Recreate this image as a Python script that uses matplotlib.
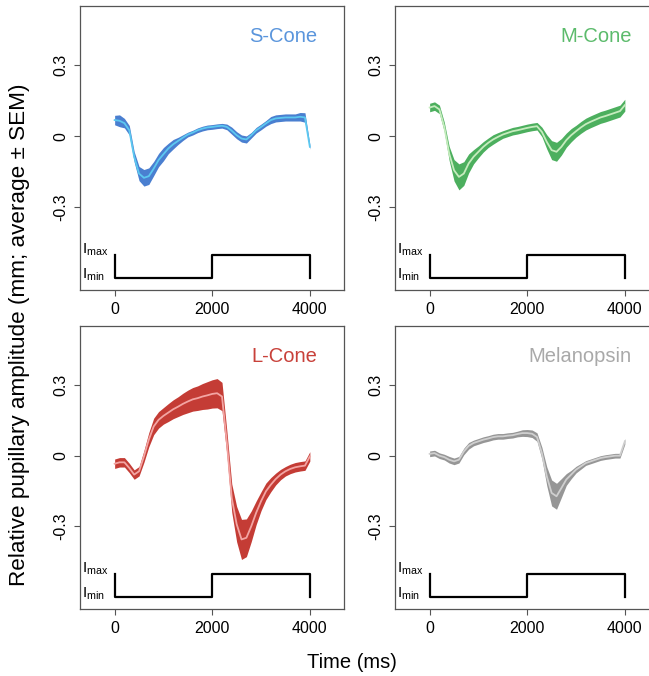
import numpy as np
import matplotlib
matplotlib.use("Agg")
import matplotlib.pyplot as plt

plt.rcParams['font.family'] = ['Liberation Sans', 'DejaVu Sans']
plt.rcParams['mathtext.fontset'] = 'custom'
plt.rcParams['mathtext.rm'] = 'Liberation Sans'

# time grid (ms)
time_ms = np.arange(0, 4001, 100)

s_mean = [0.068, 0.065, 0.055, 0.025, -0.087, -0.158, -0.176, -0.169, -0.137, -0.101,
          -0.076, -0.052, -0.034, -0.020, -0.006, 0.007, 0.015, 0.025, 0.032, 0.037,
          0.039, 0.042, 0.044, 0.039, 0.023, 0.004, -0.010, -0.014, 0.004, 0.025,
          0.039, 0.054, 0.068, 0.075, 0.077, 0.079, 0.079, 0.079, 0.082, 0.079, -0.045]
s_sem = [0.02, 0.025, 0.02, 0.02, 0.022, 0.03, 0.035, 0.035, 0.03, 0.028,
         0.028, 0.022, 0.02, 0.015, 0.012, 0.01, 0.01, 0.01, 0.01, 0.01,
         0.01, 0.01, 0.01, 0.012, 0.015, 0.015, 0.015, 0.015, 0.012, 0.012,
         0.012, 0.012, 0.015, 0.015, 0.015, 0.015, 0.015, 0.015, 0.018, 0.02, 0.01]

m_mean = [0.121, 0.127, 0.113, 0.039, -0.073, -0.144, -0.172, -0.158, -0.115, -0.087,
          -0.066, -0.045, -0.028, -0.014, -0.003, 0.007, 0.014, 0.021, 0.025, 0.030,
          0.035, 0.039, 0.042, 0.018, -0.024, -0.059, -0.066, -0.045, -0.017, 0.004,
          0.021, 0.037, 0.051, 0.061, 0.070, 0.079, 0.085, 0.092, 0.099, 0.106, 0.131]
m_sem = [0.018, 0.018, 0.018, 0.02, 0.03, 0.045, 0.055, 0.05, 0.04, 0.03,
         0.025, 0.022, 0.02, 0.02, 0.018, 0.016, 0.016, 0.016, 0.016, 0.016,
         0.016, 0.016, 0.016, 0.02, 0.03, 0.04, 0.04, 0.035, 0.03, 0.028,
         0.025, 0.025, 0.025, 0.025, 0.025, 0.025, 0.025, 0.025, 0.025, 0.025, 0.025]

l_mean = [-0.034, -0.028, -0.028, -0.052, -0.080, -0.066, -0.003, 0.068, 0.124, 0.152,
          0.169, 0.183, 0.197, 0.208, 0.220, 0.230, 0.239, 0.244, 0.251, 0.256,
          0.262, 0.265, 0.251, 0.054, -0.180, -0.290, -0.355, -0.348, -0.299, -0.242,
          -0.193, -0.151, -0.123, -0.099, -0.080, -0.066, -0.056, -0.049, -0.045, -0.042, -0.003]
l_sem = [0.02, 0.02, 0.02, 0.02, 0.02, 0.02, 0.025, 0.03, 0.035, 0.035,
         0.035, 0.038, 0.04, 0.042, 0.045, 0.048, 0.05, 0.052, 0.055, 0.058,
         0.06, 0.062, 0.06, 0.05, 0.06, 0.075, 0.085, 0.08, 0.065, 0.05,
         0.04, 0.035, 0.03, 0.025, 0.022, 0.02, 0.02, 0.02, 0.02, 0.02, 0.02]

mel_mean = [0.008, 0.011, 0.000, -0.006, -0.017, -0.024, -0.017, 0.018, 0.042, 0.054,
            0.061, 0.068, 0.073, 0.079, 0.082, 0.082, 0.085, 0.087, 0.092, 0.096,
            0.096, 0.093, 0.079, 0.011, -0.087, -0.158, -0.172, -0.137, -0.101, -0.080,
            -0.059, -0.045, -0.031, -0.024, -0.017, -0.010, -0.006, -0.003, 0.000, 0.000, 0.061]
mel_sem = [0.012, 0.012, 0.012, 0.012, 0.014, 0.014, 0.014, 0.014, 0.014, 0.012,
           0.012, 0.012, 0.012, 0.012, 0.012, 0.012, 0.012, 0.012, 0.012, 0.014,
           0.015, 0.016, 0.018, 0.025, 0.04, 0.055, 0.055, 0.04, 0.025, 0.018,
           0.014, 0.012, 0.01, 0.01, 0.01, 0.01, 0.01, 0.01, 0.01, 0.01, 0.012]

# stimulus trace (light level Imin/Imax)
stim_t = [0, 0, 2000, 2000, 4000, 4000]
stim_level = [-0.5, -0.6, -0.6, -0.5, -0.5, -0.6]

titles = ["S-Cone", "M-Cone", "L-Cone", "Melanopsin"]
means = [s_mean, m_mean, l_mean, mel_mean]
sems = [s_sem, m_sem, l_sem, mel_sem]
band_colors = ["#4a7fd0", "#4caf5e", "#c43c35", "#969696"]
line_colors = ["#5cc8f0", "#c6ecbe", "#f3a5a3", "#cfcfcf"]
title_colors = ["#5a95dc", "#5cbb6c", "#c8413a", "#a9a9a9"]

xticks = [0, 2000, 4000]
yticks = [-0.3, 0, 0.3]
ytick_labels = ["-0.3", "0", "0.3"]

W, H = 649, 676
fig = plt.figure(figsize=(W / 100, H / 100), dpi=100)

# panel boxes in pixels: left, top, right, bottom
boxes = [(80, 6, 344, 290), (395, 6, 659, 290), (80, 326, 344, 609), (395, 326, 659, 609)]

for i, (l, t, r, b) in enumerate(boxes):
    ax = fig.add_axes([l / W, 1 - b / H, (r - l) / W, (b - t) / H])
    mu = np.array(means[i])
    se = np.array(sems[i])
    ax.fill_between(time_ms, mu - se, mu + se, color=band_colors[i], lw=0, zorder=2)
    ax.plot(time_ms, mu, color=line_colors[i], lw=1.3, zorder=3)
    ax.plot(stim_t, stim_level, color="black", lw=1.6, zorder=3)
    ax.text(-660, -0.48, r"$\mathregular{I_{max}}$", fontsize=11, ha="left", va="center")
    ax.text(-660, -0.585, r"$\mathregular{I_{min}}$", fontsize=11, ha="left", va="center")
    ax.text(4145, 0.42, titles[i], color=title_colors[i], fontsize=14.5, ha="right", va="center")
    ax.set_xlim(-710, 4700)
    ax.set_ylim(-0.65, 0.55)
    ax.set_xticks(xticks)
    ax.set_yticks(yticks)
    ax.set_yticklabels(ytick_labels, rotation=90, va="center")
    ax.tick_params(axis="both", direction="out", length=4.5, width=0.8, color="#555555",
                   labelsize=11.5, pad=4)
    for sp in ax.spines.values():
        sp.set_color("#555555")
        sp.set_linewidth(0.9)
    ax.set_facecolor("white")

fig.text(20 / W, 1 - 335 / H, "Relative pupillary amplitude (mm; average \u00b1 SEM)",
         rotation=90, ha="center", va="center", fontsize=16.2)
fig.text(352 / W, 1 - 663 / H, "Time (ms)", ha="center", va="center", fontsize=14.5)

fig.savefig("out.png", dpi=100)
